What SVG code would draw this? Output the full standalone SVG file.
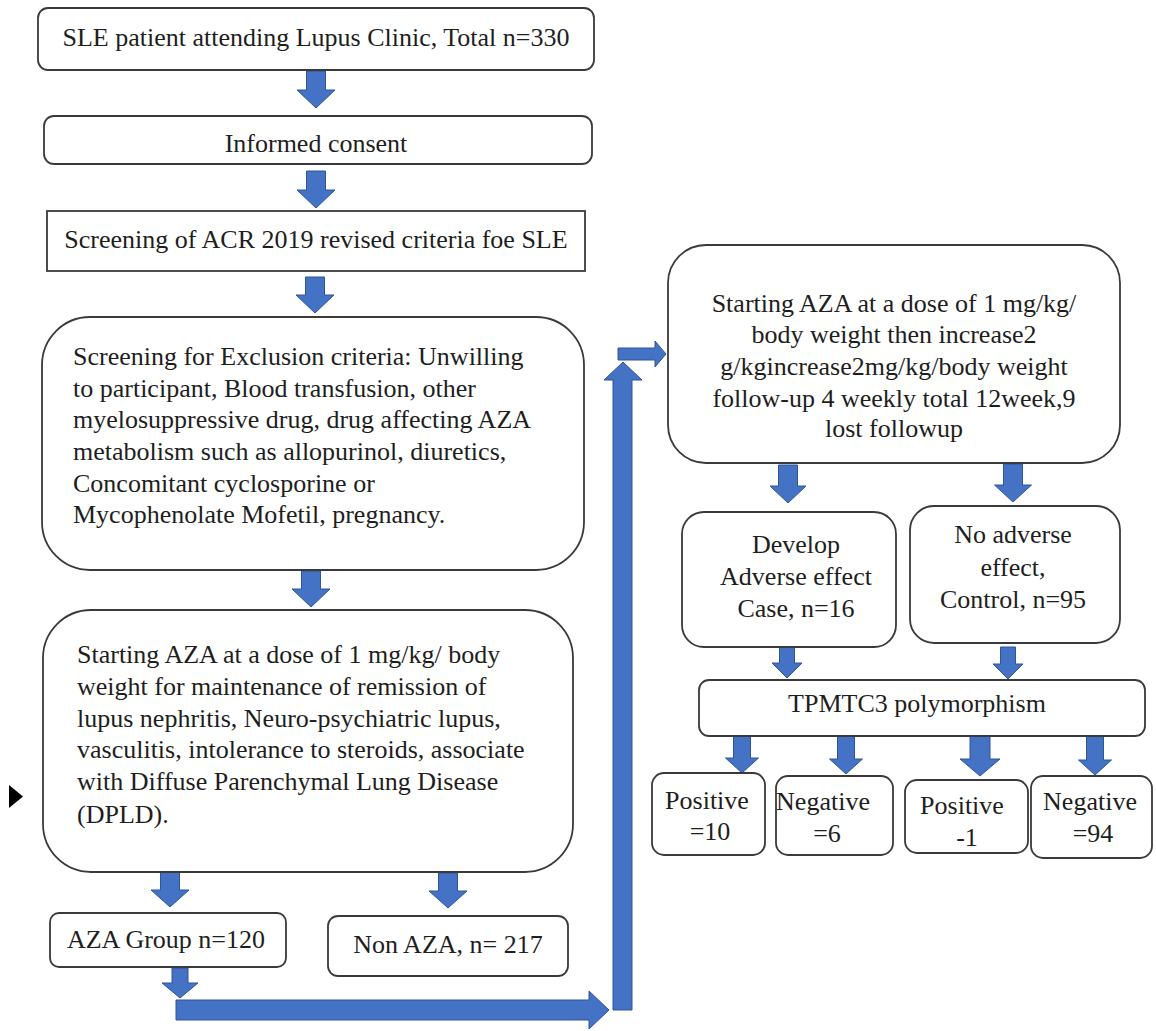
<svg xmlns="http://www.w3.org/2000/svg" width="1156" height="1031" viewBox="0 0 1156 1031">
<style>
.box{fill:#fff;stroke:#3a3a3a;stroke-width:1.8}
.t{font-size:26px;fill:#1e1e1e}
.m{text-anchor:middle}
.arr{fill:#4472c4;stroke:#2f5597;stroke-width:1}
</style>
<rect width="1156" height="1031" fill="#fff"/>
<g id="connectors">
<path class="arr" d="M306.5,71 H325.5 V90 H335 L316,108 L297,90 H306.5 Z"/>
<path class="arr" d="M306.5,171 H325.5 V190 H335 L316,208 L297,190 H306.5 Z"/>
<path class="arr" d="M305.5,277 H324.5 V295 H334 L315,313 L296,295 H305.5 Z"/>
<path class="arr" d="M301.5,571 H320.5 V589 H330 L311,607 L292,589 H301.5 Z"/>
<path class="arr" d="M160.5,872 H179.5 V890 H189 L170,907 L151,890 H160.5 Z"/>
<path class="arr" d="M438.5,873 H457.5 V891 H467 L448,908 L429,891 H438.5 Z"/>
<path class="arr" d="M172,968 H188 V983 H198 L180,998 L162,983 H172 Z"/>
<path class="arr" d="M176,1000 H589 V991 L609,1010 L589,1029 V1020 H176 Z"/>
<path class="arr" d="M613,1010 V380 H604 L623,362 L642,380 H632 V1010 Z"/>
<path class="arr" d="M618,348 H655 V341 L666,354 L655,367 V360 H618 Z"/>
<path class="arr" d="M778.5,465 H797.5 V486 H806 L788,503 L770,486 H778.5 Z"/>
<path class="arr" d="M1003.5,464 H1022.5 V485 H1031.5 L1013,502 L994.5,485 H1003.5 Z"/>
<path class="arr" d="M779.5,647 H794.5 V663 H802 L787,678 L772,663 H779.5 Z"/>
<path class="arr" d="M1000.5,647 H1015.5 V664 H1023 L1008,679 L993,664 H1000.5 Z"/>
<path class="arr" d="M733.5,736 H750.5 V758 H758.5 L742,773 L725.5,758 H733.5 Z"/>
<path class="arr" d="M837.5,736 H854.5 V759 H862.5 L846,774 L829.5,759 H837.5 Z"/>
<path class="arr" d="M970,736 H990 V759 H1000 L980,776 L960,759 H970 Z"/>
<path class="arr" d="M1086.5,736 H1103.5 V760 H1111.5 L1095,775 L1078.5,760 H1086.5 Z"/>
<path d="M9,785 L23,796.5 L9,808 Z" fill="#000"/>
</g>
<g font-family="Liberation Serif, Times New Roman, serif">
<g id="n1"><rect class="box" x="38" y="8" width="556" height="62" rx="10"/>
<text class="t m" x="316" y="46">SLE patient attending Lupus Clinic, Total n=330</text></g>
<g id="n2"><rect class="box" x="44" y="116" width="548" height="48" rx="10"/>
<text class="t m" x="316" y="152">Informed consent</text></g>
<g id="n3"><rect class="box" x="47" y="211" width="538" height="60"/>
<text class="t m" x="316" y="248">Screening of ACR 2019 revised criteria foe SLE</text></g>
<g id="n4"><rect class="box" x="42" y="317" width="542" height="253" rx="48"/>
<text class="t" x="73" y="365">Screening for Exclusion criteria: Unwilling</text>
<text class="t" x="73" y="397">to participant, Blood transfusion, other</text>
<text class="t" x="73" y="428">myelosuppressive drug, drug affecting AZA</text>
<text class="t" x="73" y="460">metabolism such as allopurinol, diuretics,</text>
<text class="t" x="73" y="492">Concomitant cyclosporine or</text>
<text class="t" x="73" y="523">Mycophenolate Mofetil, pregnancy.</text></g>
<g id="n5"><rect class="box" x="43" y="610" width="530" height="262" rx="48"/>
<text class="t" x="77" y="663">Starting AZA at a dose of 1 mg/kg/ body</text>
<text class="t" x="77" y="695">weight for maintenance of remission of</text>
<text class="t" x="77" y="727">lupus nephritis, Neuro-psychiatric lupus,</text>
<text class="t" x="77" y="758">vasculitis, intolerance to steroids, associate</text>
<text class="t" x="77" y="790">with Diffuse Parenchymal Lung Disease</text>
<text class="t" x="77" y="823">(DPLD).</text></g>
<g id="n6"><rect class="box" x="50" y="913" width="236" height="54" rx="9"/>
<text class="t m" x="166" y="948">AZA Group n=120</text></g>
<g id="n7"><rect class="box" x="328" y="916" width="240" height="60" rx="10"/>
<text class="t m" x="448" y="953">Non AZA, n= 217</text></g>
<g id="n8"><rect class="box" x="668" y="245" width="452" height="218" rx="38"/>
<text class="t m" x="894" y="312">Starting AZA at a dose of 1 mg/kg/</text>
<text class="t m" x="894" y="343">body weight then increase2</text>
<text class="t m" x="894" y="375">g/kgincrease2mg/kg/body weight</text>
<text class="t m" x="894" y="407">follow-up 4 weekly total 12week,9</text>
<text class="t m" x="894" y="437">lost followup</text></g>
<g id="n9"><rect class="box" x="682" y="512" width="214" height="135" rx="22"/>
<text class="t m" x="796" y="553">Develop</text>
<text class="t m" x="796" y="585">Adverse effect</text>
<text class="t m" x="796" y="617">Case, n=16</text></g>
<g id="n10"><rect class="box" x="910" y="506" width="210" height="137" rx="24"/>
<text class="t m" x="1013" y="543">No adverse</text>
<text class="t m" x="1013" y="576">effect,</text>
<text class="t m" x="1013" y="608">Control, n=95</text></g>
<g id="n11"><rect class="box" x="699" y="680" width="446" height="56" rx="10"/>
<text class="t m" x="917" y="712">TPMTC3 polymorphism</text></g>
<g id="n12"><rect class="box" x="652" y="773" width="113" height="82" rx="12"/>
<text class="t m" x="707" y="809">Positive</text>
<text class="t m" x="710" y="840">=10</text></g>
<g id="n13"><rect class="box" x="776" y="776" width="117" height="79" rx="12"/>
<text class="t m" x="823" y="810">Negative</text>
<text class="t m" x="827" y="842">=6</text></g>
<g id="n14"><rect class="box" x="905" y="780" width="123" height="73" rx="12"/>
<text class="t m" x="962" y="814">Positive</text>
<text class="t m" x="967" y="846">-1</text></g>
<g id="n15"><rect class="box" x="1031" y="776" width="121" height="82" rx="12"/>
<text class="t m" x="1090" y="810">Negative</text>
<text class="t m" x="1093" y="842">=94</text></g>
</g>
</svg>
